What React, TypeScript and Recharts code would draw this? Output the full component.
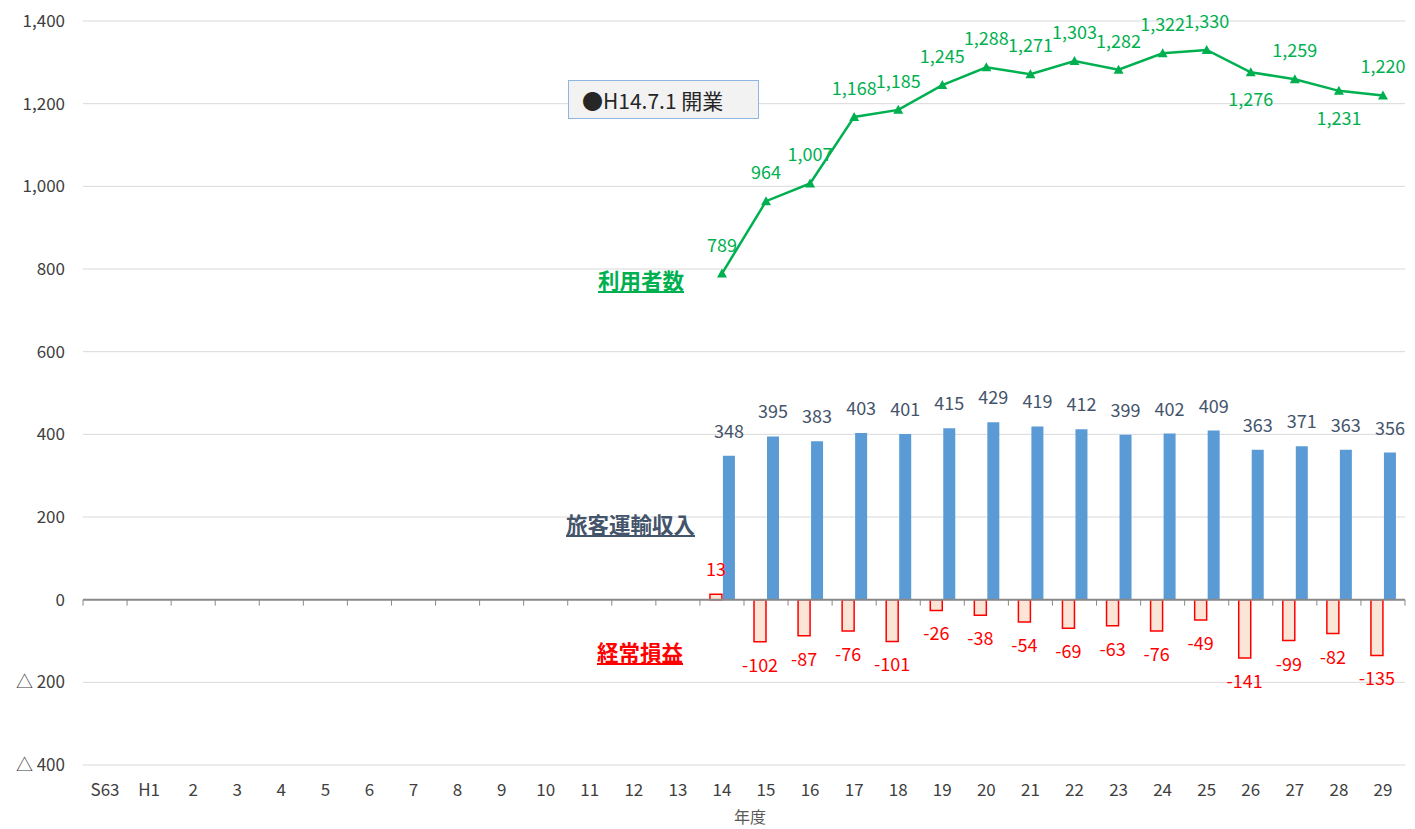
import {
  ComposedChart,
  Bar,
  Line,
  XAxis,
  YAxis,
  CartesianGrid,
  ReferenceLine,
} from "recharts"

const categories = [
  "S63", "H1", "2", "3", "4", "5", "6", "7", "8", "9", "10", "11", "12", "13",
  "14", "15", "16", "17", "18", "19", "20", "21", "22", "23", "24", "25", "26", "27", "28", "29",
]

// 利用者数
const users: (number | null)[] = [
  null, null, null, null, null, null, null, null, null, null, null, null, null, null,
  789, 964, 1007, 1168, 1185, 1245, 1288, 1271, 1303, 1282, 1322, 1330, 1276, 1259, 1231, 1220,
]

// 旅客運輸収入
const revenue: (number | null)[] = [
  null, null, null, null, null, null, null, null, null, null, null, null, null, null,
  348, 395, 383, 403, 401, 415, 429, 419, 412, 399, 402, 409, 363, 371, 363, 356,
]

// 経常損益
const profit: (number | null)[] = [
  null, null, null, null, null, null, null, null, null, null, null, null, null, null,
  13, -102, -87, -76, -101, -26, -38, -54, -69, -63, -76, -49, -141, -99, -82, -135,
]

const yTicks = [-400, -200, 0, 200, 400, 600, 800, 1000, 1200, 1400]

// labels of the line drawn under the point
const labelBelow = ["26", "28"]

const data = categories.map((year, i) => ({
  year,
  users: users[i],
  revenue: revenue[i],
  profit: profit[i],
}))

const FONT = '"Noto Sans CJK JP", "Noto Sans", sans-serif'
const GREEN = "#00b050"
const BLUE = "#5b9bd5"
const SLATE = "#44546a"
const RED = "#ff0000"

const formatY = (v: number) =>
  v < 0 ? `△ ${Math.abs(v)}` : v.toLocaleString("en-US")

function makeBarLabel(color: string) {
  return (props: any) => {
    const { x, y, width, height, value } = props
    if (value == null) return null
    const end = value >= 0 ? Math.min(y, y + height) : Math.max(y, y + height)
    const ty = value >= 0 ? end - 18 : end + 30
    return (
      <text
        x={x + width / 2}
        y={ty}
        textAnchor="middle"
        fill={color}
        fontSize={18}
        fontFamily={FONT}
      >
        {value}
      </text>
    )
  }
}

function UserLabel(props: any) {
  const { x, y, value, index } = props
  if (value == null) return null
  const below = labelBelow.includes(categories[index])
  return (
    <text
      x={x}
      y={below ? y + 34 : y - 22}
      textAnchor="middle"
      fill={GREEN}
      fontSize={18}
      fontFamily={FONT}
    >
      {value.toLocaleString("en-US")}
    </text>
  )
}

function TriangleDot(props: any) {
  const { cx, cy, index, value } = props
  if (value == null || cx == null || cy == null) return <g key={index} />
  const s = 5
  return (
    <polygon
      key={index}
      points={`${cx},${cy - s} ${cx + s},${cy + s - 1} ${cx - s},${cy + s - 1}`}
      fill={GREEN}
    />
  )
}

function ZeroAxis(props: any) {
  const { x1, y1, x2 } = props
  const n = categories.length
  const step = (x2 - x1) / n
  const ticks = []
  for (let i = 0; i <= n; i++) {
    const tx = x1 + i * step
    ticks.push(
      <line key={i} x1={tx} y1={y1} x2={tx} y2={y1 + 6} stroke="#898989" strokeWidth={1} />
    )
  }
  return (
    <g>
      <line x1={x1} y1={y1} x2={x2} y2={y1} stroke="#898989" strokeWidth={2} />
      {ticks}
    </g>
  )
}

const seriesLabel = {
  position: "absolute" as const,
  fontFamily: FONT,
  fontSize: 21.5,
  fontWeight: 700,
  textDecoration: "underline",
  lineHeight: "24px",
  whiteSpace: "nowrap" as const,
}

export default function App() {
  return (
    <div
      style={{
        position: "absolute",
        left: 0,
        top: 0,
        width: 1415,
        height: 829,
        background: "#fff",
        fontFamily: FONT,
        overflow: "hidden",
      }}
    >
      <ComposedChart
        width={1415}
        height={829}
        data={data}
        margin={{ top: 21, right: 10, left: 0, bottom: 0 }}
        barSize={12}
        barGap={1}
      >
        <CartesianGrid vertical={false} stroke="#d9d9d9" />
        <XAxis
          dataKey="year"
          height={64}
          axisLine={false}
          tickLine={false}
          tickSize={0}
          tickMargin={19}
          interval={0}
          tick={{ fontSize: 17, fill: "#404040", fontFamily: FONT }}
          label={{
            value: "年度",
            position: "insideBottom",
            offset: 6,
            dx: 6,
            fontSize: 16,
            fill: "#595959",
            fontFamily: FONT,
          }}
        />
        <YAxis
          width={83}
          domain={[-400, 1400]}
          ticks={yTicks}
          axisLine={false}
          tickLine={false}
          tickSize={0}
          tickMargin={18}
          tickFormatter={formatY}
          tick={{ fontSize: 17, fill: "#404040", fontFamily: FONT }}
        />
        <Bar
          dataKey="profit"
          fill="#fbe5d6"
          stroke={RED}
          strokeWidth={1.5}
          isAnimationActive={false}
          label={makeBarLabel(RED)}
        />
        <Bar
          dataKey="revenue"
          fill={BLUE}
          isAnimationActive={false}
          label={makeBarLabel(SLATE)}
        />
        <ReferenceLine y={0} shape={ZeroAxis} />
        <Line
          dataKey="users"
          stroke={GREEN}
          strokeWidth={2.5}
          dot={TriangleDot}
          activeDot={false}
          connectNulls={false}
          isAnimationActive={false}
          label={UserLabel}
        />
      </ComposedChart>

      <div
        style={{
          position: "absolute",
          left: 568,
          top: 80,
          width: 191,
          height: 39,
          background: "#f2f2f2",
          border: "1px solid #8fb6e0",
          display: "flex",
          alignItems: "center",
          paddingLeft: 13,
          boxSizing: "border-box",
          fontSize: 21,
          color: "#262626",
          whiteSpace: "nowrap",
        }}
      >
        ●H14.7.1 開業
      </div>
      <div style={{ ...seriesLabel, left: 598, top: 268, color: GREEN }}>利用者数</div>
      <div style={{ ...seriesLabel, left: 566, top: 512, color: SLATE }}>旅客運輸収入</div>
      <div style={{ ...seriesLabel, left: 597, top: 640, color: RED }}>経常損益</div>
    </div>
  )
}
